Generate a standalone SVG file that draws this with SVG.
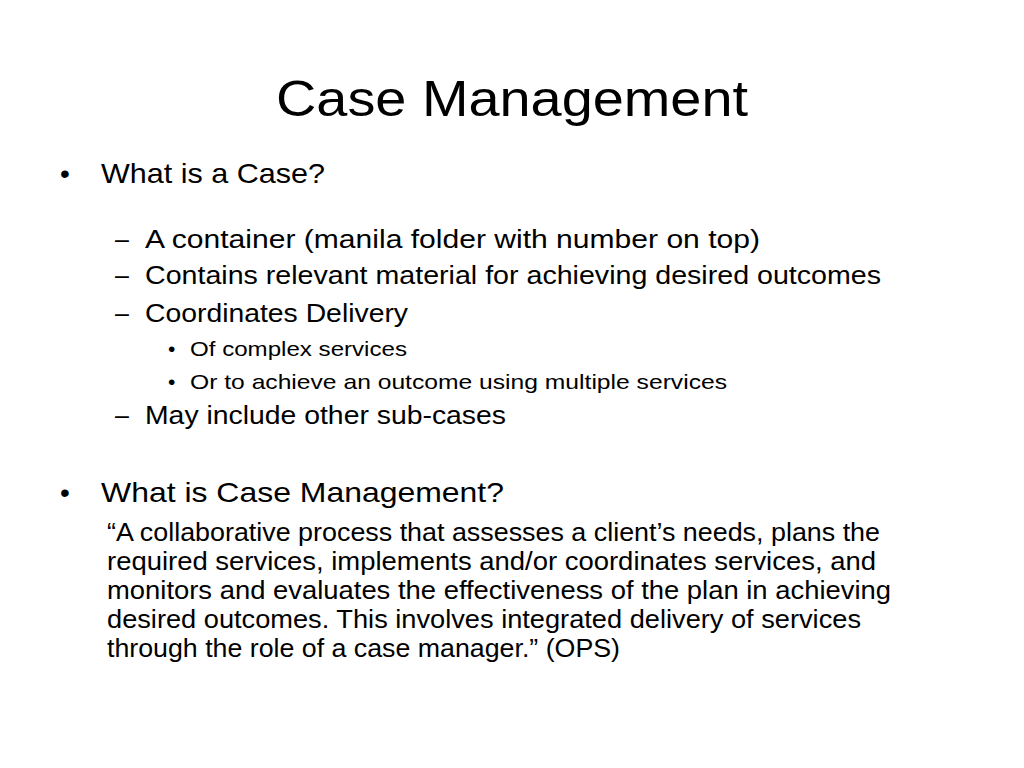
<svg xmlns="http://www.w3.org/2000/svg" width="1024" height="768" viewBox="0 0 1024 768">
<style>
text{font-family:"Liberation Sans",Arial,sans-serif;fill:#000}
.t{font-size:50px}
.l1{font-size:28px}
.l2{font-size:25px}
.l3{font-size:21px}
.q{font-size:25px}
</style>
<rect width="1024" height="768" fill="#fff"/>
<g id="title"><text class="t" x="276" y="116" textLength="472" lengthAdjust="spacingAndGlyphs">Case Management</text></g>
<g id="body">
<text class="l1" x="60" y="183">•</text>
<text class="l1" x="101" y="183" textLength="224" lengthAdjust="spacingAndGlyphs">What is a Case?</text>
<text class="l2" x="115" y="248">–</text>
<text class="l2" x="145" y="248" textLength="615" lengthAdjust="spacingAndGlyphs">A container   (manila folder with number on top)</text>
<text class="l2" x="115" y="284">–</text>
<text class="l2" x="145" y="284" textLength="736" lengthAdjust="spacingAndGlyphs">Contains relevant material for achieving desired outcomes</text>
<text class="l2" x="115" y="322">–</text>
<text class="l2" x="145" y="322" textLength="263" lengthAdjust="spacingAndGlyphs">Coordinates Delivery</text>
<text class="l3" x="168" y="356">•</text>
<text class="l3" x="190" y="356" textLength="217" lengthAdjust="spacingAndGlyphs">Of complex services</text>
<text class="l3" x="168" y="389">•</text>
<text class="l3" x="190" y="389" textLength="537" lengthAdjust="spacingAndGlyphs">Or to achieve an outcome using multiple services</text>
<text class="l2" x="115" y="424">–</text>
<text class="l2" x="145" y="424" textLength="361" lengthAdjust="spacingAndGlyphs">May include other sub-cases</text>
<text class="l1" x="60" y="502">•</text>
<text class="l1" x="101" y="502" textLength="403" lengthAdjust="spacingAndGlyphs">What is Case Management?</text>
<text class="q" x="107" y="541" textLength="773" lengthAdjust="spacingAndGlyphs">“A collaborative process that assesses a client’s needs, plans the</text>
<text class="q" x="107" y="570" textLength="769" lengthAdjust="spacingAndGlyphs">required services, implements and/or coordinates services, and</text>
<text class="q" x="107" y="599" textLength="784" lengthAdjust="spacingAndGlyphs">monitors and evaluates the effectiveness of the plan in achieving</text>
<text class="q" x="107" y="628" textLength="754" lengthAdjust="spacingAndGlyphs">desired outcomes. This involves integrated delivery of services</text>
<text class="q" x="107" y="657" textLength="513" lengthAdjust="spacingAndGlyphs">through the role of a case manager.” (OPS)</text>
</g>
</svg>
